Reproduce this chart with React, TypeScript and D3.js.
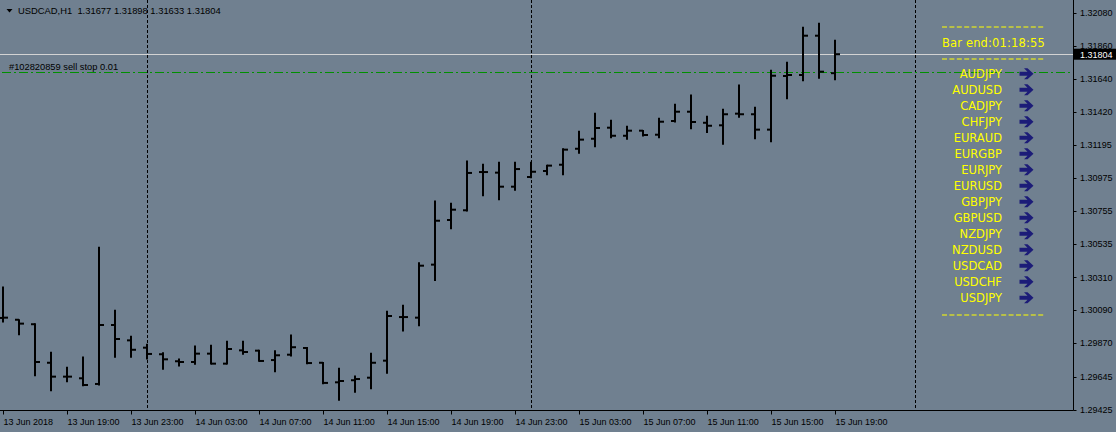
import React from "react";
import * as d3 from "d3";

// ---------- data ----------
const headerSymbol = "USDCAD,H1";
const headerValues = ["1.31677", "1.31898", "1.31633", "1.31804"];

const opens = [
  1.30038, 1.30026, 1.29996, 1.29738, 1.29645, 1.29634, 1.29596, 1.29991, 1.29888, 1.29839,
  1.29795, 1.29748, 1.29743, 1.29799, 1.29732, 1.29821, 1.29819, 1.29756, 1.29792, 1.29837,
  1.29738, 1.29607, 1.29621, 1.29638, 1.29752, 1.30044, 1.30040, 1.30395, 1.30694, 1.30759,
  1.31015, 1.31011, 1.30917, 1.30982, 1.31022, 1.31064, 1.31171, 1.31238, 1.31312, 1.31258,
  1.31292, 1.31265, 1.31357, 1.31419, 1.31345, 1.31328, 1.31406, 1.31402, 1.31299, 1.31658,
  1.31665, 1.31928, 1.31677,
];
const highs = [
  1.30245, 1.30026, 1.30000, 1.29808, 1.29708, 1.29777, 1.30511, 1.30089, 1.29915, 1.29862,
  1.29805, 1.29763, 1.29850, 1.29855, 1.29882, 1.29882, 1.29822, 1.29819, 1.29924, 1.29840,
  1.29740, 1.29701, 1.29649, 1.29801, 1.30083, 1.30123, 1.30408, 1.30821, 1.30806, 1.31089,
  1.31067, 1.31080, 1.31080, 1.31080, 1.31060, 1.31171, 1.31288, 1.31408, 1.31362, 1.31321,
  1.31294, 1.31375, 1.31469, 1.31531, 1.31388, 1.31435, 1.31598, 1.31449, 1.31696, 1.31750,
  1.31984, 1.32011, 1.31898,
];
const lows = [
  1.30011, 1.29926, 1.29651, 1.29551, 1.29611, 1.29584, 1.29589, 1.29775, 1.29775, 1.29763,
  1.29694, 1.29716, 1.29728, 1.29730, 1.29730, 1.29795, 1.29748, 1.29678, 1.29783, 1.29732,
  1.29598, 1.29487, 1.29540, 1.29564, 1.29667, 1.29951, 1.29986, 1.30288, 1.30636, 1.30754,
  1.30857, 1.30830, 1.30893, 1.30977, 1.30997, 1.30997, 1.31141, 1.31185, 1.31245, 1.31234,
  1.31256, 1.31245, 1.31350, 1.31305, 1.31279, 1.31201, 1.31382, 1.31238, 1.31218, 1.31506,
  1.31627, 1.31643, 1.31633,
];
const closes = [
  1.30040, 1.30000, 1.29743, 1.29645, 1.29645, 1.29589, 1.29991, 1.29897, 1.29825, 1.29797,
  1.29761, 1.29743, 1.29799, 1.29732, 1.29830, 1.29810, 1.29750, 1.29788, 1.29842, 1.29736,
  1.29603, 1.29616, 1.29629, 1.29738, 1.30051, 1.30044, 1.30388, 1.30689, 1.30763, 1.31009,
  1.31015, 1.30917, 1.31035, 1.31017, 1.31058, 1.31165, 1.31232, 1.31310, 1.31258, 1.31292,
  1.31263, 1.31352, 1.31419, 1.31350, 1.31325, 1.31402, 1.31402, 1.31299, 1.31660, 1.31665,
  1.31928, 1.31687, 1.31804,
];

const timeLabels = [
  "13 Jun 2018", "13 Jun 19:00", "13 Jun 23:00", "14 Jun 03:00", "14 Jun 07:00",
  "14 Jun 11:00", "14 Jun 15:00", "14 Jun 19:00", "14 Jun 23:00", "15 Jun 03:00",
  "15 Jun 07:00", "15 Jun 11:00", "15 Jun 15:00", "15 Jun 19:00",
];
const timeLabelStep = 4;
const separatorBars = [9, 33, 57];

const priceTicks = [
  1.3208, 1.3186, 1.3164, 1.3142, 1.31195, 1.30975, 1.30755, 1.30535, 1.3031, 1.3009,
  1.2987, 1.29645, 1.29425,
];
const bidPrice = 1.31804;
const pendingPrice = 1.31683;
const orderLabel = "#102820859 sell stop 0.01";
const barEndLabel = "Bar end:01:18:55";
const symbols = [
  "AUDJPY", "AUDUSD", "CADJPY", "CHFJPY", "EURAUD", "EURGBP", "EURJPY", "EURUSD",
  "GBPJPY", "GBPUSD", "NZDJPY", "NZDUSD", "USDCAD", "USDCHF", "USDJPY",
];

// ---------- layout ----------
const W = 1116;
const H = 432;
const axisX = 1073.5;
const axisY = 410.5;
const BG = "#708090";
const YELLOW = "#ffff00";
const AXIS_FONT = "'Liberation Sans', Arial, sans-serif";
const PANEL_FONT = "'DejaVu Sans', sans-serif";

export default function App() {
  const x = d3.scaleLinear().domain([0, 52]).range([3, 835]);
  const y = d3.scaleLinear().domain([1.29425, 1.3208]).range([409.5, 13]);
  const panelY = d3.scaleLinear().domain([0, 14]).range([73.8, 297.8]);

  const bars = opens.map((o, i) => ({ o, h: highs[i], l: lows[i], c: closes[i], i }));

  const arrowPath = (x0: number, cy: number) => {
    const p = d3.path();
    p.moveTo(x0, cy - 2);
    p.lineTo(x0 + 8, cy - 2);
    p.lineTo(x0 + 4.5, cy - 5.5);
    p.lineTo(x0 + 8, cy - 5.5);
    p.lineTo(x0 + 14, cy);
    p.lineTo(x0 + 8, cy + 5.5);
    p.lineTo(x0 + 4.5, cy + 5.5);
    p.lineTo(x0 + 8, cy + 2);
    p.lineTo(x0, cy + 2);
    p.closePath();
    return p.toString();
  };

  const tri = d3.path();
  tri.moveTo(6.5, 9);
  tri.lineTo(12.5, 9);
  tri.lineTo(9.5, 12.5);
  tri.closePath();

  return (
    <svg
      width={W}
      height={H}
      style={{ position: "absolute", left: 0, top: 0, display: "block" }}
    >
      <rect x={0} y={0} width={W} height={H} fill={BG} />

      {/* period separators */}
      {separatorBars.map((b) => (
        <line
          key={"sep" + b}
          x1={Math.round(x(b)) + 0.5}
          x2={Math.round(x(b)) + 0.5}
          y1={0}
          y2={axisY}
          stroke="#000"
          strokeWidth={1}
          strokeDasharray="3,2"
        />
      ))}

      {/* bid line */}
      <line x1={0} x2={axisX} y1={Math.round(y(bidPrice)) + 0.5} y2={Math.round(y(bidPrice)) + 0.5} stroke="#d3d3d3" strokeWidth={1} />

      {/* pending order line */}
      <line
        x1={2}
        x2={axisX}
        y1={Math.round(y(pendingPrice)) + 0.5}
        y2={Math.round(y(pendingPrice)) + 0.5}
        stroke="#009000"
        strokeWidth={1}
        strokeDasharray="9,3,2,3"
      />
      <text x={9} y={y(pendingPrice) - 2} fontFamily={AXIS_FONT} fontSize={9.3} fill="#000">
        {orderLabel}
      </text>

      {/* bars */}
      <g stroke="#000" strokeWidth={2}>
        {bars.map((b) => {
          const cx = x(b.i);
          return (
            <g key={"bar" + b.i}>
              <line x1={cx} x2={cx} y1={y(b.h) - 0.5} y2={y(b.l) + 0.5} />
              <line x1={cx - 4} x2={cx} y1={y(b.o)} y2={y(b.o)} />
              <line x1={cx} x2={cx + 5} y1={y(b.c)} y2={y(b.c)} />
            </g>
          );
        })}
      </g>

      {/* header */}
      <path d={tri.toString()} fill="#000" />
      <text x={18} y={14.3} fontFamily={AXIS_FONT} fontSize={9.4} fill="#000" style={{ whiteSpace: "pre" }}>
        {headerSymbol + "  " + headerValues.join(" ")}
      </text>

      {/* right panel */}
      <line x1={942} x2={1045} y1={27} y2={27} stroke={YELLOW} strokeWidth={1.2} strokeDasharray="5,2.4" />
      <text x={942} y={46.7} fontFamily={PANEL_FONT} fontSize={11.5} fill={YELLOW} letterSpacing={0.15}>
        {barEndLabel}
      </text>
      <line x1={942} x2={1045} y1={59} y2={59} stroke={YELLOW} strokeWidth={1.2} strokeDasharray="5,2.4" />
      {symbols.map((s, k) => (
        <g key={s}>
          <text
            x={1002}
            y={panelY(k) + 4.2}
            textAnchor="end"
            fontFamily={PANEL_FONT}
            fontSize={11.5}
            fill={YELLOW}
          >
            {s}
          </text>
          <path d={arrowPath(1019.5, panelY(k))} fill="#1c1c78" />
        </g>
      ))}
      <line x1={942} x2={1045} y1={315} y2={315} stroke={YELLOW} strokeWidth={1.2} strokeDasharray="5,2.4" />

      {/* axes */}
      <line x1={axisX} x2={axisX} y1={0} y2={axisY} stroke="#000" strokeWidth={1} />
      <line x1={0} x2={axisX} y1={axisY} y2={axisY} stroke="#000" strokeWidth={1} />

      {priceTicks.map((v) => (
        <g key={"pt" + v}>
          <line x1={axisX} x2={axisX + 3} y1={Math.round(y(v)) + 0.5} y2={Math.round(y(v)) + 0.5} stroke="#000" />
          <text x={1080} y={y(v) + 3.3} fontFamily={AXIS_FONT} fontSize={9} fill="#000">
            {v.toFixed(5)}
          </text>
        </g>
      ))}

      {/* current price box */}
      <rect x={axisX + 0.5} y={y(bidPrice) - 5.5} width={W - axisX} height={11} fill="#000" />
      <text x={1080} y={y(bidPrice) + 3.3} fontFamily={AXIS_FONT} fontSize={9} fill="#fff">
        {bidPrice.toFixed(5)}
      </text>

      {/* time axis */}
      {timeLabels.map((t, k) => {
        const tx = Math.round(x(k * timeLabelStep)) + 0.5;
        return (
          <g key={"tl" + k}>
            <line x1={tx} x2={tx} y1={axisY} y2={axisY + 4} stroke="#000" />
            <text x={tx} y={425} fontFamily={AXIS_FONT} fontSize={9} fill="#000">
              {t}
            </text>
          </g>
        );
      })}
    </svg>
  );
}
